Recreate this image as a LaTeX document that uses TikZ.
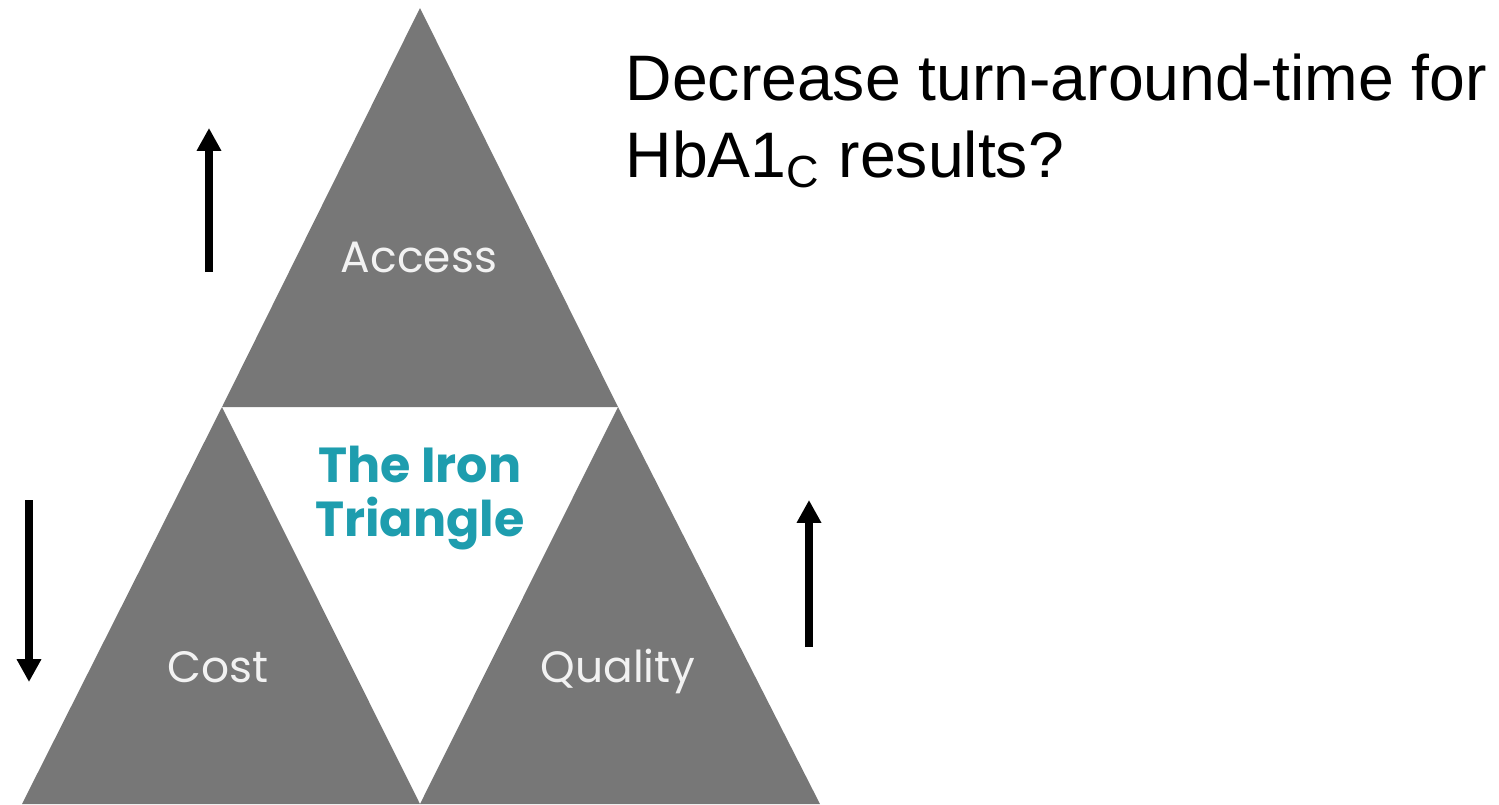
\documentclass[tikz,border=0pt]{standalone}
\usepackage{fontspec}
\setmainfont{Liberation Sans}
\newfontfamily\gothic{Poppins}
\usetikzlibrary{arrows.meta}

\definecolor{slab}{HTML}{777777}
\definecolor{teal}{HTML}{1E9DAE}
\definecolor{pale}{HTML}{F2F2F2}

\tikzset{
    slab/.style={fill=slab, draw=none},
    corner/.style={anchor=base, font=\gothic\fontsize{12.5}{14}\selectfont, text=pale},
    trend/.style={-{Triangle[width=6.6pt, length=6.5pt]}, line width=2.3pt},
}

\begin{document}
\begin{tikzpicture}[x=0.1mm, y=-0.1mm]
    \useasboundingbox (0,0) rectangle (1499,804);

    % outer corners and the inner (white) triangle
    \coordinate (top) at (420,8);
    \coordinate (bl) at (22,804);
    \coordinate (br) at (820,804);
    \coordinate (ml) at (222,407);
    \coordinate (mr) at (618,407);
    \coordinate (mb) at (420,804);

    \fill[slab] (top) -- (mr) -- (ml) -- cycle;
    \fill[slab] (ml) -- (mb) -- (bl) -- cycle;
    \fill[slab] (mr) -- (br) -- (mb) -- cycle;

    \node[corner] (access) at (419,272) {Access};
    \node[corner] (cost) at (218,682) {Cost};
    \node[corner] (quality) at (618,682) {Quality};
    \node[font=\gothic\bfseries\fontsize{14}{15.6}\selectfont, text=teal,
          align=center] (iron) at (420,498) {The Iron\\Triangle};

    % which way each corner moves
    \coordinate (accA) at (209,272);
    \coordinate (accB) at (209,128);
    \coordinate (costA) at (29,500);
    \coordinate (costB) at (29,682);
    \coordinate (qualA) at (809,647);
    \coordinate (qualB) at (809,500);
    \draw[trend] (accA) -- (accB);
    \draw[trend] (costA) -- (costB);
    \draw[trend] (qualA) -- (qualB);

    \node[anchor=base west, inner sep=0pt, align=left,
          font=\fontsize{18.3}{21.9}\selectfont] (question) at (625,177)
        {Decrease turn-around-time for\\HbA1\textsubscript{C} results?};
\end{tikzpicture}
\end{document}
